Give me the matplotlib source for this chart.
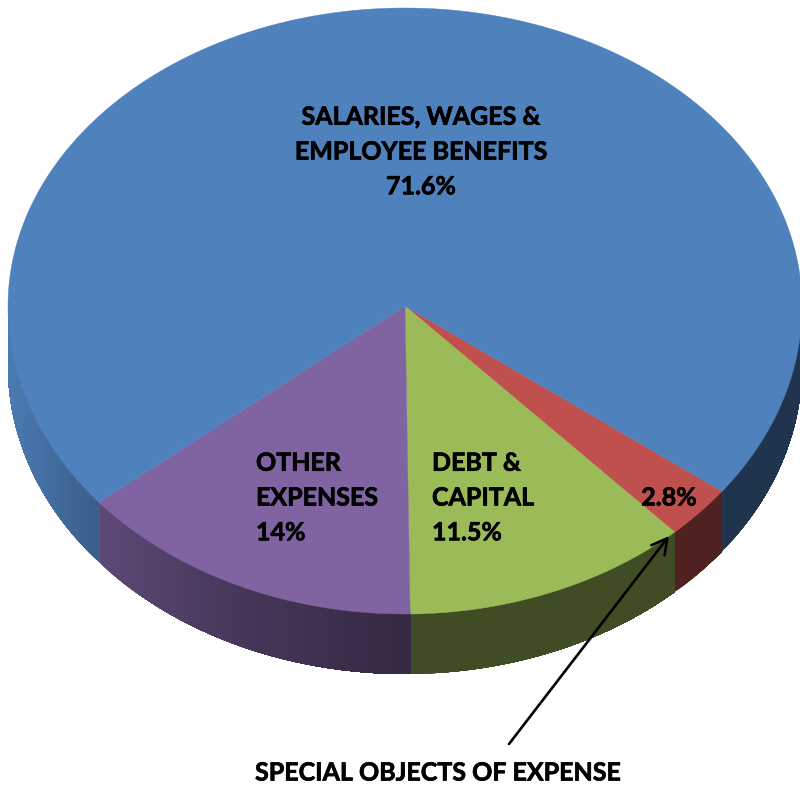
import matplotlib
matplotlib.use("Agg")
import matplotlib.pyplot as plt
import matplotlib.patheffects as pe
import numpy as np

# values in the order they go round the pie
labels = ["SPECIAL OBJECTS", "DEBT & CAPITAL", "OTHER EXPENSES", "SALARIES, WAGES & EMPLOYEE BENEFITS"]
values = [2.8, 11.5, 14.0, 71.6]
colors = ["#C0504D", "#9BBB59", "#8064A2", "#4F81BD"]

# pie geometry in pixels
cx, cy = 405, 306
rx = 397
ry_up, ry_down = 298, 308
depth = 60
start = 37.0
front_stretch = 1.014  # front slices look a bit bigger, 3d perspective


def ell(t):
    t = np.radians(t)
    s = np.sin(t)
    y = cy + s * np.where(s > 0, ry_down, ry_up)
    return cx + rx * np.cos(t), y


def shade(x, col):
    # side wall gets darker to the middle, flat after that
    k = np.interp(x, [8, 98, 250, 409], [0.95, 0.73, 0.54, 0.41])
    rgb = np.array(matplotlib.colors.to_rgb(col))
    return tuple(rgb * k)


plt.rcParams['font.family'] = ['Lato', 'DejaVu Sans']
fig = plt.figure(figsize=(8, 7.88), dpi=100)
ax = fig.add_axes([0, 0, 1, 1])
ax.set_xlim(0, 800)
ax.set_ylim(788, 0)
ax.axis("off")

fracs = np.array(values) / sum(values) * 360
edges = start + np.concatenate([[0], np.cumsum(fracs)])
edges[1:4] = start + (edges[1:4] - start) * front_stretch
edges[4] = start + 360

# side wall first, only the part that faces us
for i in range(len(values)):
    a, b = edges[i], edges[i + 1]
    for lo, hi in [(a, b), (a - 360, b - 360)]:
        lo = max(lo, 0)
        hi = min(hi, 180)
        if hi <= lo:
            continue
        ts = np.linspace(lo, hi, int((hi - lo) * 2) + 2)
        # each strip runs on to the end of the wall, the next one paints over it
        order = range(len(ts) - 1) if lo >= 90 else range(len(ts) - 2, -1, -1)
        for j in order:
            if lo >= 90:
                t_part = np.linspace(ts[j], hi, 30)
            else:
                t_part = np.linspace(lo, ts[j + 1], 30)
            x, y = ell(t_part)
            xm = ell(np.array([(ts[j] + ts[j + 1]) / 2]))[0][0]
            ax.fill(np.r_[x, x[::-1]], np.r_[y, y[::-1] + depth],
                    color=shade(xm, colors[i]), lw=0)

# top of the pie
for i in range(len(values)):
    ts = np.linspace(edges[i], edges[i + 1], 300)
    x, y = ell(ts)
    ax.fill(np.r_[cx, x], np.r_[cy, y], color=colors[i], lw=0.3, zorder=3)

fs = 18
ls = 1.62
heavy = [pe.withStroke(linewidth=0.5, foreground="black")]
ax.text(421, 152, "SALARIES, WAGES &\nEMPLOYEE BENEFITS\n71.6%", ha="center", va="center",
        fontsize=fs, fontweight="bold", linespacing=ls, zorder=5, path_effects=heavy)
ax.text(256, 498, "OTHER\nEXPENSES\n14%", ha="left", va="center",
        fontsize=fs, fontweight="bold", linespacing=ls, zorder=5, path_effects=heavy)
ax.text(432, 498, "DEBT &\nCAPITAL\n11.5%", ha="left", va="center",
        fontsize=fs, fontweight="bold", linespacing=ls, zorder=5, path_effects=heavy)
ax.text(669, 498, "2.8%", ha="center", va="center",
        fontsize=fs, fontweight="bold", zorder=5, path_effects=heavy)
ax.text(438, 773, "SPECIAL OBJECTS OF EXPENSE", ha="center", va="center",
        fontsize=fs, fontweight="bold", zorder=5, path_effects=heavy)

ax.annotate("", xy=(669, 536), xytext=(509, 744),
            arrowprops=dict(arrowstyle="->,head_length=1.1,head_width=0.6", color="black",
                            lw=1.9, shrinkA=0, shrinkB=0), zorder=6)

fig.savefig("out.png", dpi=100)
